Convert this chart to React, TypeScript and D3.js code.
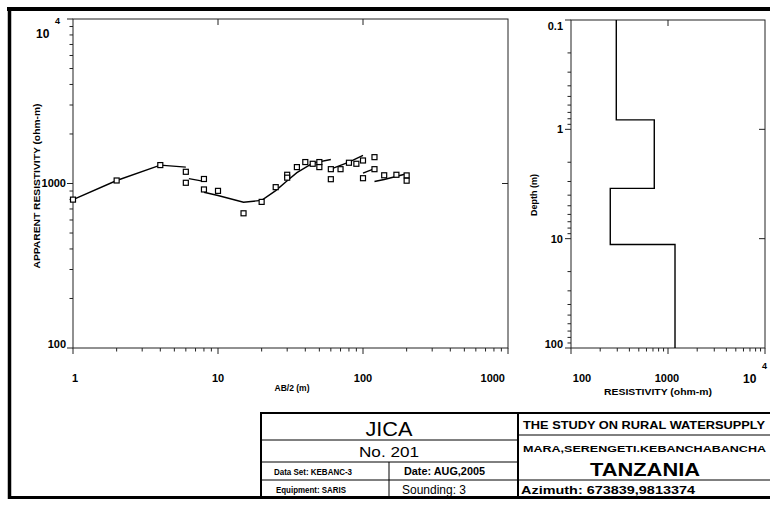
import React from 'react';
import * as d3 from 'd3';

// Observed apparent resistivity (AB/2 in m, rho in ohm-m)
const abHalf = [1, 2, 4, 6, 6, 8, 8, 10, 15, 20, 25, 30, 30, 35, 40, 45, 50, 50, 60, 60, 70, 80, 90, 100, 100, 120, 120, 140, 170, 200, 200];
const rhoApp = [798, 1043, 1294, 1178, 1010, 1065, 920, 902, 659, 773, 950, 1130, 1085, 1258, 1350, 1318, 1350, 1258, 1222, 1062, 1222, 1337, 1318, 1380, 1077, 1446, 1222, 1122, 1130, 1120, 1040];

// Calculated curve segments
const seg1X = [1, 2, 4, 6];
const seg1Y = [798, 1043, 1294, 1258];
const seg2X = [6.3, 8];
const seg2Y = [1070, 1030];
const seg3X = [8, 10, 15, 20, 25, 30, 35, 45, 60];
const seg3Y = [885, 845, 769, 790, 905, 1040, 1165, 1330, 1400];
const seg4X = [58, 80, 100];
const seg4Y = [1211, 1350, 1482];
const seg5X = [100, 120];
const seg5Y = [1156, 1230];
const seg6X = [120, 140, 200];
const seg6Y = [1028, 1058, 1146];

// Layer model
const layerRho = [293, 722, 254, 1181];
const layerDepth = [0.1, 0.82, 3.47, 11.3, 100];

// Tick labels
const leftXTicks = ['1', '10', '100', '1000'];
const rightYTicks = ['0.1', '1', '10', '100'];

const FONT = '"Liberation Sans", Arial, sans-serif';

export default function App() {
  const xL = d3.scaleLog().domain([1, 1000]).range([73, 508]);
  const yL = d3.scaleLog().domain([100, 10000]).range([348, 19]);
  const xR = d3.scaleLog().domain([100, 10000]).range([571, 765]);
  const yR = d3.scaleLog().domain([0.1, 100]).range([20, 348]);

  const isMajor = (v: number) => Math.abs(Math.log10(v) - Math.round(Math.log10(v))) < 1e-9;

  const lineL = d3.line<[number, number]>().x(d => xL(d[0])).y(d => yL(d[1]));
  const segs = [
    [seg1X, seg1Y], [seg2X, seg2Y], [seg3X, seg3Y], [seg4X, seg4Y], [seg5X, seg5Y], [seg6X, seg6Y],
  ].map(([xs, ys]) => xs.map((x, i) => [x, ys[i]] as [number, number]));

  const stepPts: [number, number][] = [];
  layerRho.forEach((r, i) => {
    stepPts.push([r, layerDepth[i]]);
    stepPts.push([r, layerDepth[i + 1]]);
  });
  const lineR = d3.line<[number, number]>().x(d => xR(d[0])).y(d => yR(d[1]));

  const xLt = xL.ticks();
  const yLt = yL.ticks();
  const xRt = xR.ticks();
  const yRt = yR.ticks();

  const axisStroke = '#222';
  const tickLabel = { fontFamily: FONT, fontWeight: 700, fontSize: 11, fill: '#000' } as const;

  return (
    <div style={{ position: 'absolute', left: 0, top: 0, width: 770, height: 507, background: '#fff' }}>
      <svg width={770} height={507} style={{ display: 'block' }}>
        <rect x={0} y={0} width={770} height={507} fill="#fff" />
        {/* outer frame */}
        <line x1={7} x2={772} y1={9} y2={9} stroke="#000" strokeWidth={4} />
        <line x1={9.5} x2={9.5} y1={7} y2={499} stroke="#000" strokeWidth={3.5} />
        <line x1={8} x2={772} y1={497.5} y2={497.5} stroke="#000" strokeWidth={3} />

        {/* LEFT CHART */}
        <rect x={73} y={19} width={435} height={329} fill="none" stroke={axisStroke} strokeWidth={1} />
        {yLt.map((v, i) => {
          const y = yL(v);
          const m = isMajor(v);
          return (
            <g key={'yl' + i}>
              <line x1={73} x2={73 - (m ? 6 : 3.5)} y1={y} y2={y} stroke={axisStroke} />
              {m && v > 100 && v < 10000 && <line x1={508} x2={502} y1={y} y2={y} stroke={axisStroke} />}
            </g>
          );
        })}
        {xLt.map((v, i) => {
          const x = xL(v);
          const m = isMajor(v);
          return (
            <g key={'xl' + i}>
              <line x1={x} x2={x} y1={348} y2={348 + (m ? 6 : 3.5)} stroke={axisStroke} />
              {m && v > 1 && v < 1000 && <line x1={x} x2={x} y1={19} y2={25} stroke={axisStroke} />}
            </g>
          );
        })}
        {leftXTicks.map((t, i) => (
          <text key={'xlt' + i} x={i === 3 ? 505 : xL(+t) + (i === 0 ? 2 : 0)} y={382} textAnchor={i === 3 ? 'end' : 'middle'} {...tickLabel}>{t}</text>
        ))}
        <text x={66} y={187} textAnchor="end" {...tickLabel}>1000</text>
        <text x={66} y={348} textAnchor="end" {...tickLabel}>100</text>
        <text x={36} y={38} {...tickLabel} fontSize={12}>10</text>
        <text x={55} y={24} {...tickLabel} fontSize={9}>4</text>
        <text x={0} y={0} transform="translate(40,186) rotate(-90)" textAnchor="middle" fontFamily={FONT} fontWeight={700} fontSize={9} textLength={165} lengthAdjust="spacingAndGlyphs">APPARENT RESISTIVITY (ohm-m)</text>
        <text x={292} y={391} textAnchor="middle" fontFamily={FONT} fontWeight={700} fontSize={8.5}>AB/2 (m)</text>

        {segs.map((s, i) => (
          <path key={'seg' + i} d={lineL(s) || ''} fill="none" stroke="#000" strokeWidth={1.4} />
        ))}
        {abHalf.map((a, i) => (
          <rect key={'pt' + i} x={xL(a) - 2.5} y={yL(rhoApp[i]) - 2.5} width={5} height={5} fill="#fff" stroke="#000" strokeWidth={1.2} />
        ))}

        {/* RIGHT CHART */}
        <rect x={571} y={20} width={194} height={328} fill="none" stroke={axisStroke} strokeWidth={1} />
        {yRt.map((v, i) => {
          const y = yR(v);
          const m = isMajor(v);
          return (
            <g key={'yr' + i}>
              <line x1={571} x2={571 - (m ? 6 : 3.5)} y1={y} y2={y} stroke={axisStroke} />
              {m && v > 0.1 && v < 100 && <line x1={765} x2={759} y1={y} y2={y} stroke={axisStroke} />}
            </g>
          );
        })}
        {xRt.map((v, i) => {
          const x = xR(v);
          const m = isMajor(v);
          return (
            <g key={'xr' + i}>
              <line x1={x} x2={x} y1={348} y2={348 + (m ? 6 : 3.5)} stroke={axisStroke} />
              {m && v > 100 && v < 10000 && <line x1={x} x2={x} y1={20} y2={26} stroke={axisStroke} />}
            </g>
          );
        })}
        <text x={582} y={382} textAnchor="middle" {...tickLabel}>100</text>
        <text x={667} y={382} textAnchor="middle" {...tickLabel}>1000</text>
        <text x={743} y={383} {...tickLabel} fontSize={12}>10</text>
        <text x={762} y={369} {...tickLabel} fontSize={9}>4</text>
        {rightYTicks.map((t, i) => (
          <text key={'yrt' + i} x={563} y={(i === 0 ? yR(+t) + 6 : yR(+t)) + 4 - (i === 3 ? 4 : 0)} textAnchor="end" {...tickLabel}>{t}</text>
        ))}
        <text x={0} y={0} transform="translate(537,195) rotate(-90)" textAnchor="middle" fontFamily={FONT} fontWeight={700} fontSize={9}>Depth (m)</text>
        <text x={658} y={395} textAnchor="middle" fontFamily={FONT} fontWeight={700} fontSize={9} textLength={108} lengthAdjust="spacingAndGlyphs">RESISTIVITY (ohm-m)</text>
        <path d={lineR(stepPts) || ''} fill="none" stroke="#000" strokeWidth={1.4} />

        {/* TITLE BLOCK */}
        <g fontFamily={FONT}>
          <line x1={261} x2={772} y1={413} y2={413} stroke="#000" strokeWidth={2} />
          <line x1={261} x2={261} y1={412} y2={498} stroke="#000" strokeWidth={2} />
          <line x1={518} x2={518} y1={412} y2={498} stroke="#000" strokeWidth={2} />
          <line x1={261} x2={518} y1={440} y2={440} stroke="#000" strokeWidth={1} />
          <line x1={261} x2={518} y1={462} y2={462} stroke="#000" strokeWidth={1} />
          <line x1={261} x2={772} y1={480} y2={480} stroke="#000" strokeWidth={1} />
          <line x1={518} x2={772} y1={435} y2={435} stroke="#000" strokeWidth={1} />
          <line x1={389} x2={389} y1={462} y2={498} stroke="#000" strokeWidth={1} />

          <text x={389} y={436} textAnchor="middle" fontSize={20} textLength={47} lengthAdjust="spacingAndGlyphs">JICA</text>
          <text x={389} y={457} textAnchor="middle" fontSize={14} textLength={60} lengthAdjust="spacingAndGlyphs">No. 201</text>
          <text x={274} y={475} fontSize={9} fontWeight={700} textLength={78} lengthAdjust="spacingAndGlyphs">Data Set: KEBANC-3</text>
          <text x={404} y={475} fontSize={10} fontWeight={700} textLength={81} lengthAdjust="spacingAndGlyphs">Date: AUG,2005</text>
          <text x={276} y={493} fontSize={9} fontWeight={700} textLength={70} lengthAdjust="spacingAndGlyphs">Equipment: SARIS</text>
          <text x={402} y={494} fontSize={12} textLength={64} lengthAdjust="spacingAndGlyphs">Sounding: 3</text>

          <text x={523} y={429} fontSize={11} fontWeight={700} textLength={242} lengthAdjust="spacingAndGlyphs">THE STUDY ON RURAL WATERSUPPLY</text>
          <text x={523} y={452} fontSize={9} fontWeight={700} textLength={243} lengthAdjust="spacingAndGlyphs">MARA,SERENGETI.KEBANCHABANCHA</text>
          <text x={645} y={476} textAnchor="middle" fontSize={18} fontWeight={700} textLength={110} lengthAdjust="spacingAndGlyphs">TANZANIA</text>
          <text x={521} y={494} fontSize={11} fontWeight={700} textLength={174} lengthAdjust="spacingAndGlyphs">Azimuth: 673839,9813374</text>
        </g>
      </svg>
    </div>
  );
}
